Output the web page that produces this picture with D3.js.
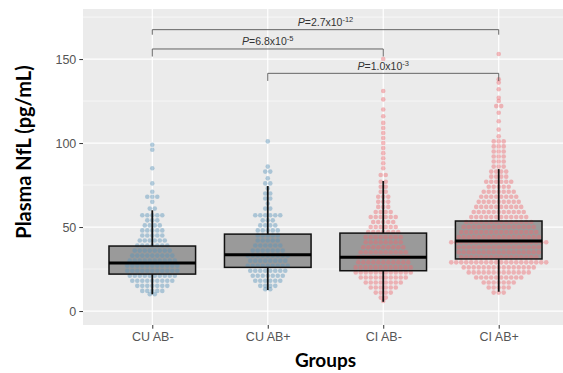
<!DOCTYPE html>
<html>
<head>
<meta charset="utf-8">
<script src="https://cdn.jsdelivr.net/npm/d3@7"></script>
<style>
  body { margin: 0; background: #fff; }
  svg { display: block; }
</style>
</head>
<body>
<div id="grafico"></div>
<script>

// Grupos e eixos
const grupos = ["CU AB-", "CU AB+", "CI AB-", "CI AB+"];
const ticksY = [0, 50, 100, 150];
const ticksYMenores = [25, 75, 125, 175];

// Estatísticas das caixas
const bigodeInf = [10, 12.5, 5.5, 11.5];
const quartil1 = [22, 26, 24, 31];
const mediana = [28.6, 33.5, 32, 41.7];
const quartil3 = [38.7, 45.8, 46.4, 53.6];
const bigodeSup = [60, 74.4, 77.4, 84.5];

// Pontos: [valor, quantidade na linha]
const linhasCuNeg = [[99,1],[96,1],[85,1],[76,1],[71,1],[68,3],[65,1],[61,2],[57,5],[54,3],[51,4],[48,5],[45,5],[42,6],[39,7],[36,8],[33,9],[30,10],[27,11],[24,11],[21,10],[18,9],[15,7],[12,5],[10,2]];
const linhasCuPos = [[101,1],[86,1],[83,2],[79,1],[76,2],[73,1],[70,2],[67,2],[64,1],[61,2],[57,6],[54,3],[51,4],[48,5],[45,5],[42,5],[39,6],[36,7],[33,9],[30,8],[27,9],[24,8],[21,7],[18,6],[15,4],[13,2]];
const linhasCiNeg = [[150,1],[131,1],[126,1],[120,1],[116,1],[112,1],[109,1],[106,1],[103,1],[100,1],[97,1],[94,1],[91,1],[88,1],[85,1],[81,2],[77,2],[74,2],[71,2],[68,3],[65,3],[62,3],[59,4],[56,6],[53,5],[50,6],[47,7],[44,8],[41,8],[38,9],[35,10],[32,11],[29,11],[26,12],[23,12],[20,10],[17,8],[14,6],[11,4],[8,2],[6,1]];
const linhasCiPos = [[153,1],[138,1],[136,1],[132,1],[127,1],[125,1],[122,2],[118,1],[113,1],[108,1],[104,1],[101,3],[98,3],[95,3],[92,3],[89,3],[86,3],[83,4],[80,4],[77,6],[74,5],[71,7],[68,8],[65,9],[62,10],[59,11],[56,12],[53,14],[50,15],[47,16],[44,17],[41,20],[38,17],[35,17],[32,16],[29,20],[26,15],[23,13],[20,10],[17,7],[14,5],[11,3]];
const linhasPorGrupo = [linhasCuNeg, linhasCuPos, linhasCiNeg, linhasCiPos];

// Comparações (colchetes com valor P)
const compInicio = ["CU AB-", "CU AB-", "CU AB+"];
const compFim = ["CI AB+", "CI AB-", "CI AB+"];
const compAltura = [167.5, 156, 141.5];
const compPonta = [164.5, 151.5, 137];
const compBase = ["2.7", "6.8", "1.0"];
const compExpoente = ["-12", "-5", "-3"];

// Configurações
const largura = 563, altura = 373;
const painel = { left: 83, right: 568, top: 9, bottom: 325 };
const cores = { "CU": "#5a95bb", "CI": "#ee6a70" };

const svg = d3.select("#grafico").append("svg")
    .attr("width", largura)
    .attr("height", altura);

// Escalas
const x = d3.scalePoint().domain(grupos).range([painel.left, painel.right]).padding(0.6);
const y = d3.scaleLinear().domain([-8.3, 179.8]).range([painel.bottom, painel.top]);
const passo = x.step();

// Fundo do painel
svg.append("rect")
    .attr("x", painel.left).attr("y", painel.top)
    .attr("width", painel.right - painel.left)
    .attr("height", painel.bottom - painel.top)
    .attr("fill", "#ebebeb");

// Grade
svg.append("g").selectAll("line").data(ticksYMenores).join("line")
    .attr("x1", painel.left).attr("x2", painel.right)
    .attr("y1", d => y(d)).attr("y2", d => y(d))
    .attr("stroke", "#fff").attr("stroke-width", 0.6);
svg.append("g").selectAll("line").data(ticksY).join("line")
    .attr("x1", painel.left).attr("x2", painel.right)
    .attr("y1", d => y(d)).attr("y2", d => y(d))
    .attr("stroke", "#fff").attr("stroke-width", 1.2);
svg.append("g").selectAll("line").data(grupos).join("line")
    .attr("x1", d => x(d)).attr("x2", d => x(d))
    .attr("y1", painel.top).attr("y2", painel.bottom)
    .attr("stroke", "#fff").attr("stroke-width", 1.2);

// Preenchimento das caixas
const larguraCaixa = passo * 0.75;
svg.append("g").selectAll("rect").data(grupos).join("rect")
    .attr("x", d => x(d) - larguraCaixa / 2)
    .attr("width", larguraCaixa)
    .attr("y", (d, i) => y(quartil3[i]))
    .attr("height", (d, i) => y(quartil1[i]) - y(quartil3[i]))
    .attr("fill", "#9a9a9a");

// Pontos (enxame)
const espacamento = 5;
const pontos = [];
grupos.forEach((g, i) => {
    linhasPorGrupo[i].forEach(([valor, n]) => {
        for (let k = 0; k < n; k++) {
            pontos.push({ grupo: g, valor: valor, desloc: (k - (n - 1) / 2) * espacamento });
        }
    });
});
svg.append("g").selectAll("circle").data(pontos).join("circle")
    .attr("cx", d => x(d.grupo) + d.desloc)
    .attr("cy", d => y(d.valor))
    .attr("r", 2.3)
    .attr("fill", d => cores[d.grupo.slice(0, 2)])
    .attr("fill-opacity", 0.45);

// Bigodes
const gCaixa = svg.append("g");
gCaixa.selectAll("line.sup").data(grupos).join("line")
    .attr("x1", d => x(d)).attr("x2", d => x(d))
    .attr("y1", (d, i) => y(quartil3[i])).attr("y2", (d, i) => y(bigodeSup[i]))
    .attr("stroke", "#111").attr("stroke-width", 1.8);
gCaixa.selectAll("line.inf").data(grupos).join("line")
    .attr("x1", d => x(d)).attr("x2", d => x(d))
    .attr("y1", (d, i) => y(quartil1[i])).attr("y2", (d, i) => y(bigodeInf[i]))
    .attr("stroke", "#111").attr("stroke-width", 1.8);

// Contorno e mediana
gCaixa.selectAll("rect").data(grupos).join("rect")
    .attr("x", d => x(d) - larguraCaixa / 2)
    .attr("width", larguraCaixa)
    .attr("y", (d, i) => y(quartil3[i]))
    .attr("height", (d, i) => y(quartil1[i]) - y(quartil3[i]))
    .attr("fill", "none")
    .attr("stroke", "#111").attr("stroke-width", 1.5);
gCaixa.selectAll("line.med").data(grupos).join("line")
    .attr("x1", d => x(d) - larguraCaixa / 2).attr("x2", d => x(d) + larguraCaixa / 2)
    .attr("y1", (d, i) => y(mediana[i])).attr("y2", (d, i) => y(mediana[i]))
    .attr("stroke", "#000").attr("stroke-width", 3);

// Colchetes de comparação
compInicio.forEach((ini, i) => {
    const x1 = x(ini), x2 = x(compFim[i]);
    svg.append("path")
        .attr("d", `M${x1},${y(compPonta[i])}V${y(compAltura[i])}H${x2}V${y(compPonta[i])}`)
        .attr("fill", "none")
        .attr("stroke", "#555").attr("stroke-width", 0.9);
    const t = svg.append("text")
        .attr("x", (x1 + x2) / 2)
        .attr("y", y(compAltura[i]) - 3.5)
        .attr("text-anchor", "middle")
        .style("font-family", "'Liberation Sans', Arial, sans-serif")
        .style("font-size", "10.5px")
        .attr("fill", "#333");
    t.append("tspan").style("font-style", "italic").text("P");
    t.append("tspan").text(`=${compBase[i]}x10`);
    t.append("tspan").attr("dy", -4).style("font-size", "7.5px").text(compExpoente[i]);
});

// Eixo Y
const eixoY = svg.append("g")
    .attr("transform", `translate(${painel.left},0)`)
    .call(d3.axisLeft(y).tickValues(ticksY).tickSize(3.7).tickPadding(3));
eixoY.select(".domain").remove();
eixoY.selectAll(".tick line").attr("stroke", "#333");
eixoY.selectAll(".tick text")
    .attr("fill", "#555")
    .style("font-family", "'Liberation Sans', Arial, sans-serif")
    .style("font-size", "12.5px");

// Eixo X
const eixoX = svg.append("g")
    .attr("transform", `translate(0,${painel.bottom})`)
    .call(d3.axisBottom(x).tickSize(3.7).tickPadding(3));
eixoX.select(".domain").remove();
eixoX.selectAll(".tick line").attr("stroke", "#333");
eixoX.selectAll(".tick text")
    .attr("fill", "#555")
    .style("font-family", "'Liberation Sans', Arial, sans-serif")
    .style("font-size", "12.5px");

// Títulos dos eixos
svg.append("text")
    .attr("x", (painel.left + painel.right) / 2)
    .attr("y", 367)
    .attr("text-anchor", "middle")
    .style("font-family", "Lato, 'Open Sans', sans-serif")
    .style("font-weight", "bold")
    .style("font-size", "19px")
    .attr("fill", "#000")
    .text("Groups");

svg.append("text")
    .attr("transform", "translate(31,152) rotate(-90)")
    .attr("text-anchor", "middle")
    .style("font-family", "Lato, 'Open Sans', sans-serif")
    .style("font-weight", "bold")
    .style("font-size", "20px")
    .attr("fill", "#000")
    .text("Plasma NfL (pg/mL)");

</script>
</body>
</html>
